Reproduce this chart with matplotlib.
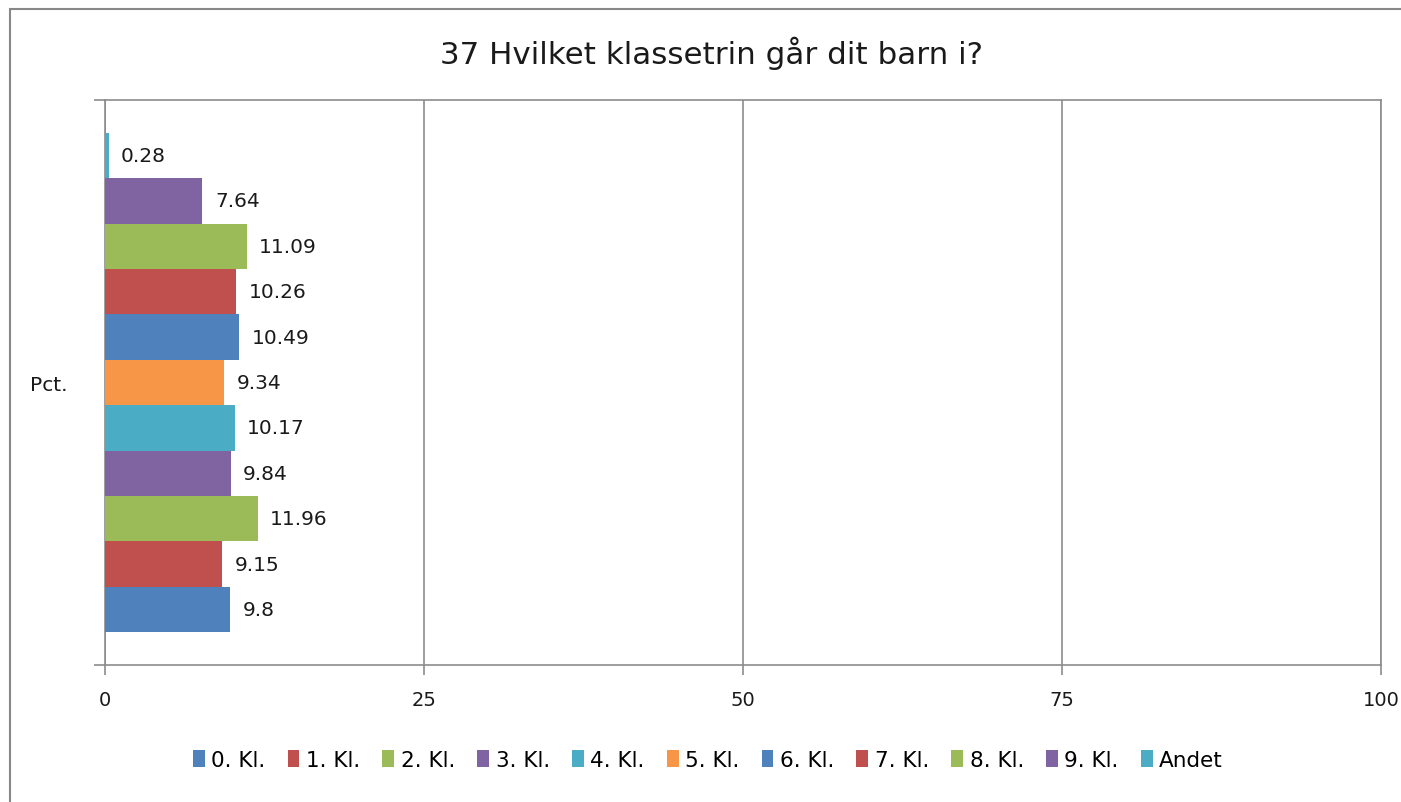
import matplotlib
matplotlib.use("Agg")
import matplotlib.pyplot as plt
from matplotlib.patches import Rectangle, Patch

categories = ["0. Kl.", "1. Kl.", "2. Kl.", "3. Kl.", "4. Kl.", "5. Kl.",
              "6. Kl.", "7. Kl.", "8. Kl.", "9. Kl.", "Andet"]
values = [9.8, 9.15, 11.96, 9.84, 10.17, 9.34, 10.49, 10.26, 11.09, 7.64, 0.28]
colors = ["#4F81BD", "#C0504D", "#9BBB59", "#8064A2", "#4BACC6", "#F79646",
          "#4F81BD", "#C0504D", "#9BBB59", "#8064A2", "#4BACC6"]
group_label = "Pct."
xticks = [0, 25, 50, 75, 100]
title = "37 Hvilket klassetrin går dit barn i?"

W, H = 1401, 803
fig = plt.figure(figsize=(W / 100, H / 100), dpi=100)
fig.patch.set_facecolor("white")

# outer chart border
fig.patches.append(Rectangle((10 / W, -0.1), 2, 1.1 - 10 / H, transform=fig.transFigure,
                             fill=False, edgecolor="#888888", linewidth=1.5))

ax = fig.add_axes([105 / W, 1 - 666 / H, (1381 - 105) / W, (666 - 101) / H])
gray = "#8C8C8C"
txt = "#1a1a1a"
n = len(values)
h = 45.4 / 565
for i, (lab, v, c) in enumerate(zip(categories, values, colors)):
    y = 0.5 + (i - (n - 1) / 2) * h
    bars = ax.barh(y, v, height=h, color=c, label=lab, zorder=3)
    ax.bar_label(bars, labels=[f"{v:g}"], padding=9, fontsize=14.5, color=txt)

ax.set_xlim(0, 100)
ax.set_ylim(0, 1)
ax.set_xticks(xticks)
ax.set_xticklabels([str(t) for t in xticks], fontsize=14)
ax.tick_params(axis="x", length=7, color=gray, width=1.2, pad=11, labelcolor=txt)
ax.set_yticks([0, 1])
ax.set_yticklabels(["", ""])
ax.set_yticks([0.5], minor=True)
ax.set_yticklabels([group_label], minor=True, fontsize=14.5)
ax.tick_params(axis="y", which="major", length=8, color=gray, width=1.2)
ax.tick_params(axis="y", which="minor", length=0, pad=27, labelcolor=txt)
ax.grid(axis="x", color=gray, linewidth=1.2, zorder=0)
for s in ax.spines.values():
    s.set_color(gray)
    s.set_linewidth(1.2)

fig.text(712 / W, 1 - 53 / H, title, ha="center", va="center", fontsize=22.3, color=txt)

handles = [Patch(facecolor=c, label=l) for c, l in zip(colors, categories)]
fig.legend(handles=handles, loc="center", bbox_to_anchor=(708 / W, 1 - 761 / H), ncol=n,
           frameon=False, fontsize=15.5, handlelength=0.55, handleheight=0.8,
           handletextpad=0.3, columnspacing=1.03)

fig.savefig("out.png", dpi=100, facecolor="white")
